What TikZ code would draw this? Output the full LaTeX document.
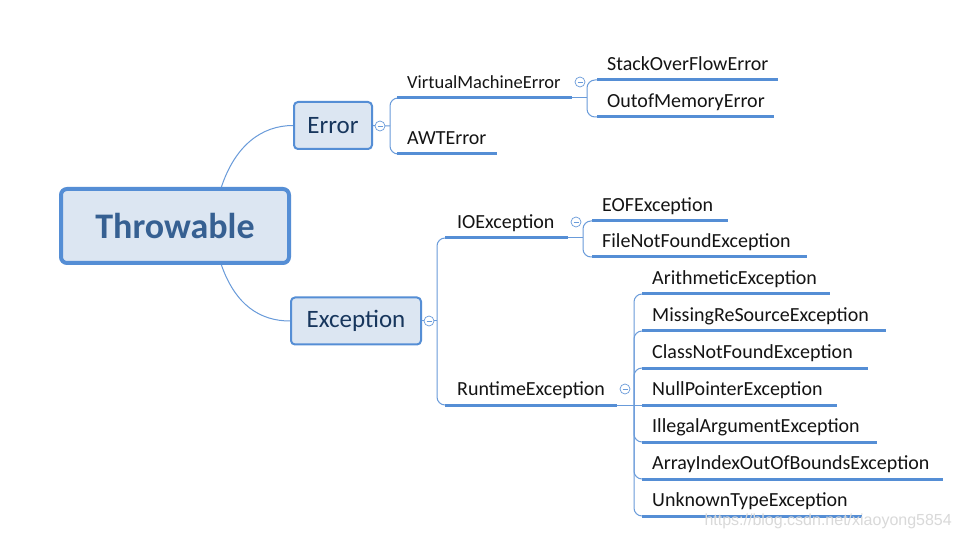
\documentclass[tikz,border=0pt]{standalone}
\usepackage{fontspec}
\setmainfont{Carlito}
\newfontfamily\wmfont{Liberation Sans}
\usetikzlibrary{calc}
\definecolor{lineblue}{RGB}{85,142,213}
\definecolor{thinblue}{RGB}{105,155,218}
\definecolor{boxfill}{RGB}{220,230,242}
\definecolor{roottext}{RGB}{54,96,146}
\definecolor{maintext}{RGB}{23,54,93}
\definecolor{leaftext}{RGB}{20,20,20}
\tikzset{
  rootbox/.style={draw=lineblue, line width=4pt, fill=boxfill, rounded corners=6pt,
    minimum width=228pt, minimum height=74pt, inner sep=0pt,
    font=\fontsize{36}{40}\selectfont\bfseries, text=roottext},
  mainbox/.style={draw=lineblue, line width=2pt, fill=boxfill, rounded corners=4pt,
    minimum height=47pt, inner sep=0pt, font=\fontsize{25}{28}\selectfont, text=maintext},
  leaf/.style={anchor=south west, inner xsep=10pt, inner ysep=0pt, text height=15pt,
    text depth=9.5pt, font=\fontsize{20}{22}\selectfont, text=leaftext},
  uline/.style={draw=lineblue, line width=3pt},
  conn/.style={draw=thinblue, line width=1pt},
  brk/.style={draw=thinblue, line width=1pt, rounded corners=8pt},
  collapse/.style={circle, draw=thinblue, line width=0.7pt, fill=white, minimum size=10pt,
    inner sep=0pt,
    path picture={\draw[thinblue, line width=0.7pt]
      ([xshift=-2.5pt]path picture bounding box.center) --
      ([xshift=2.5pt]path picture bounding box.center);}}
}
\begin{document}
\begin{tikzpicture}[x=1pt,y=-1pt]
\useasboundingbox (0,0) rectangle (962,540);
\fill[white] (0,0) rectangle (962,540);

% main nodes
\node[rootbox] (root) at (175,226) {Throwable};
\node[mainbox, minimum width=78pt] (err) at (333,125.5) {Error};
\node[mainbox, minimum width=130pt] (exc) at (356,321) {Exception};

% leaf nodes
\node[leaf, font=\fontsize{18.5}{22}\selectfont] (vme) at (397,98) {VirtualMachineError};
\node[leaf] (awt) at (397,154) {AWTError};
\node[leaf] (sof) at (597,80) {StackOverFlowError};
\node[leaf] (oom) at (597,117) {OutofMemoryError};
\node[leaf, inner xsep=12pt] (ioe) at (445,238) {IOException};
\node[leaf, inner xsep=12pt] (rte) at (445,405) {RuntimeException};
\node[leaf] (eof) at (592,221) {EOFException};
\node[leaf] (fnf) at (592,257) {FileNotFoundException};
\node[leaf] (ari) at (642,294) {ArithmeticException};
\node[leaf] (mis) at (642,331) {MissingReSourceException};
\node[leaf] (cnf) at (642,368) {ClassNotFoundException};
\node[leaf] (npe) at (642,405) {NullPointerException};
\node[leaf] (iae) at (642,442) {IllegalArgumentException};
\node[leaf] (aio) at (642,479) {ArrayIndexOutOfBoundsException};
\node[leaf] (ute) at (642,516) {UnknownTypeException};

% junctions
\coordinate (rootN) at ($(root.north west)!0.7!(root.north east)$);
\coordinate (rootS) at ($(root.south west)!0.7!(root.south east)$);
\coordinate (jErr) at (390,126);
\coordinate (jExc) at (437,321);
\coordinate (jVme) at (587,98);
\coordinate (jIoe) at (583,238);
\coordinate (jRte) at (634,405);

% root connectors
\draw[conn] (rootN) .. controls +(14,-42) and +(-31,0) .. (err.west);
\draw[conn] (rootS) .. controls +(14,40) and +(-30,0) .. (exc.west);

% Error branch
\draw[conn] (err.east) -- (jErr);
\draw[brk] (vme.south west) -| (jErr) |- (awt.south west);

% Exception branch
\draw[conn] (exc.east) -- (jExc);
\draw[brk] (ioe.south west) -| (jExc) |- (rte.south west);

% underlines with end coordinates
\draw[uline] (vme.south west) -- ++(175,0) coordinate (vmeE);
\draw[uline] (awt.south west) -- ++(100,0);
\draw[uline] (ioe.south west) -- ++(123,0) coordinate (ioeE);
\draw[uline] (rte.south west) -- ++(172,0) coordinate (rteE);

% VirtualMachineError children
\draw[conn] (vmeE) -- (jVme);
\draw[brk] (sof.south west) -| (jVme) |- (oom.south west);

% IOException children
\draw[conn] (ioeE) -- (jIoe);
\draw[brk] (eof.south west) -| (jIoe) |- (fnf.south west);

% RuntimeException children
\draw[conn] (rteE) -- (npe.south west);
\draw[brk] (ari.south west) -| (jRte) |- (ute.south west);
\draw[brk] (jRte) |- (mis.south west);
\draw[brk] (jRte) |- (cnf.south west);
\draw[brk] (jRte) |- (iae.south west);
\draw[brk] (jRte) |- (aio.south west);

\draw[uline] (sof.south west) -- ++(181,0);
\draw[uline] (oom.south west) -- ++(177,0);
\draw[uline] (eof.south west) -- ++(136,0);
\draw[uline] (fnf.south west) -- ++(215,0);
\draw[uline] (ari.south west) -- ++(188,0);
\draw[uline] (mis.south west) -- ++(244,0);
\draw[uline] (cnf.south west) -- ++(226,0);
\draw[uline] (npe.south west) -- ++(195,0);
\draw[uline] (iae.south west) -- ++(235,0);
\draw[uline] (aio.south west) -- ++(301,0);
\draw[uline] (ute.south west) -- ++(220,0);

% collapse markers
\node[collapse] (cErr) at (380,126) {};
\node[collapse] (cExc) at (429,321) {};
\node[collapse] (cVme) at (580,82) {};
\node[collapse] (cIoe) at (576,222) {};
\node[collapse] (cRte) at (625,389) {};

% watermark
\node[anchor=east, inner sep=0pt, font=\wmfont\fontsize{16}{18}\selectfont, text=gray!30] (wm) at (952,521) {https://blog.csdn.net/xiaoyong5854};
\end{tikzpicture}
\end{document}
